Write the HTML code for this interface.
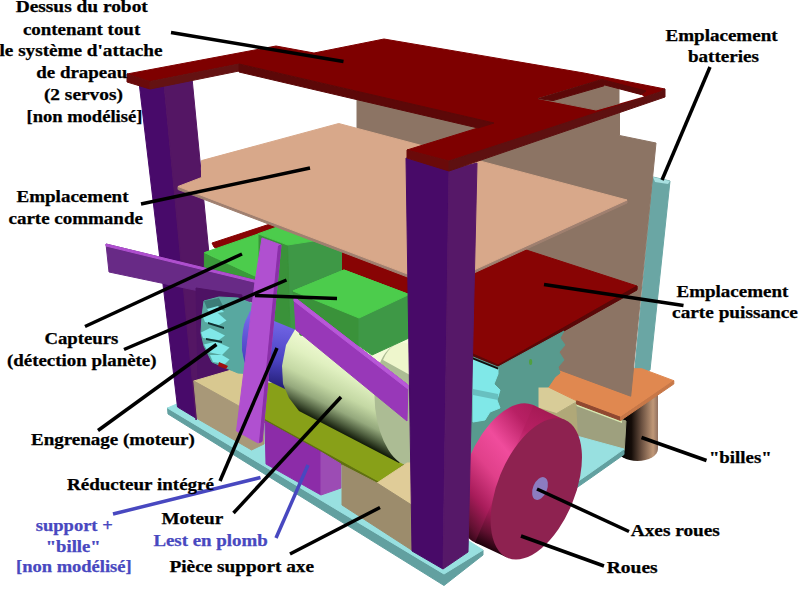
<!DOCTYPE html>
<html><head><meta charset="utf-8">
<style>
html,body{margin:0;padding:0;background:#fff;}
body{width:800px;height:600px;overflow:hidden;position:relative;}
svg{position:absolute;left:0;top:0;}
text{font-family:"Liberation Serif",serif;font-weight:bold;font-size:16px;fill:#000;stroke:#000;stroke-width:0.25px;}
.b{fill:#4848c0;stroke:#4848c0;}
</style></head><body>
<svg width="800" height="600" viewBox="0 0 800 600">
<defs>
<linearGradient id="motor" gradientUnits="userSpaceOnUse" x1="352" y1="352" x2="317" y2="421">
<stop offset="0" stop-color="#f4fcd8"/><stop offset="0.3" stop-color="#e0f0c0"/><stop offset="0.55" stop-color="#c4d8a4"/><stop offset="0.75" stop-color="#94a87c"/><stop offset="0.88" stop-color="#506040"/><stop offset="1" stop-color="#101808"/>
</linearGradient>
<linearGradient id="blue" gradientUnits="userSpaceOnUse" x1="262" y1="318" x2="255" y2="390">
<stop offset="0" stop-color="#7468e8"/><stop offset="0.55" stop-color="#4c44c4"/><stop offset="1" stop-color="#1c1868"/>
</linearGradient>
<linearGradient id="wheel" gradientUnits="userSpaceOnUse" x1="552" y1="405" x2="478" y2="545">
<stop offset="0" stop-color="#a01850"/><stop offset="0.22" stop-color="#b82064"/><stop offset="0.42" stop-color="#f04c9c"/><stop offset="0.58" stop-color="#e0408a"/><stop offset="0.76" stop-color="#a81c5a"/><stop offset="0.9" stop-color="#601030"/><stop offset="1" stop-color="#180008"/>
</linearGradient>
<linearGradient id="billes" gradientUnits="userSpaceOnUse" x1="617" y1="0" x2="658" y2="0">
<stop offset="0" stop-color="#000000"/><stop offset="0.35" stop-color="#140c08"/><stop offset="0.6" stop-color="#6a5040"/><stop offset="0.88" stop-color="#c09878"/><stop offset="1" stop-color="#907060"/>
</linearGradient>
</defs>
<polygon fill="#6aa6a4" points="653,177 670,181 650,370 641.7,373 634.5,372" stroke="#6aa6a4" stroke-width="1" stroke-linejoin="round" />
<polygon fill="#a8e0e0" points="653,177 670,181 668,184 655,182" stroke="none"/>
<rect x="617" y="388" width="41" height="61" fill="url(#billes)"/>
<ellipse cx="637.5" cy="449" rx="20.5" ry="12" fill="url(#billes)"/>
<polygon fill="#d8cc98" points="538,387 548.2,387 576.6,400.8 556.5,413.6 538,408" stroke="#d8cc98" stroke-width="1" stroke-linejoin="round" />
<polygon fill="#b0a878" points="538,408 556.5,413.6 576.6,401.7 578.5,437.5 558,446 538,446" stroke="#b0a878" stroke-width="1" stroke-linejoin="round" />
<polygon fill="#9ea07e" points="576.6,403 626,421 624.3,450.3 578.5,437.5" stroke="#9ea07e" stroke-width="1" stroke-linejoin="round" />
<polygon fill="#d8e8b0" points="576.6,403.5 622,420.5 622,423 576.6,406" stroke="none"/>
<polygon fill="#e08850" points="548.2,387 559,369 641.7,368.7 673.8,380.7 620.6,417.3 576.6,400.8" stroke="#e08850" stroke-width="1" stroke-linejoin="round" />
<polygon fill="#904830" points="576.6,400.8 620.6,417.3 620.6,420.5 576.6,404" stroke="#904830" stroke-width="1" stroke-linejoin="round" />
<polygon fill="#c87848" points="620.6,417.3 673.8,380.7 673.8,384 620.6,420.5" stroke="#c87848" stroke-width="1" stroke-linejoin="round" />
<polygon fill="#8c7464" points="357,50 619.5,84 619.5,135.5 656,143 630.7,396.2 559,369.7 470,330 357,300" stroke="#8c7464" stroke-width="1" stroke-linejoin="round" />
<polygon fill="#880404" points="212,243 270,224 357,195 637,286 637,289 498,367 473,355 420,330 300,300 214,247" stroke="#880404" stroke-width="1" stroke-linejoin="round" />
<polygon fill="#5a0808" points="637,286 637,290 498,368 498,365" stroke="#5a0808" stroke-width="1" stroke-linejoin="round" />
<polygon fill="#5a0808" points="473,354 498,365 498,368 473,357" stroke="#5a0808" stroke-width="1" stroke-linejoin="round" />
<polygon fill="#589a8e" points="468,355 473,357 498,367 564,331 560,338 565,345 559,352 564,360 558,367 560,373 555,377 548.2,387 538,387 538,446 503,470 468,470" stroke="#589a8e" stroke-width="1" stroke-linejoin="round" />
<polygon fill="#80e8e8" points="473,359 498,369 498,374 494,384 500,390 497,400 500,408 490,412 485,420 473,422" stroke="#80e8e8" stroke-width="1" stroke-linejoin="round" />
<polygon fill="#68c0c0" points="473,389 498,394 498,400 473,395" stroke="none"/>
<polygon fill="#101010" points="473,357.5 498,367.5 498,369.5 473,359.5" stroke="none"/>
<ellipse cx="530.6" cy="362" rx="1.6" ry="3" fill="#50a040"/>
<polygon fill="#62a0a0" points="167.5,408 444,574 483,550 483,555 444,585.5 168,414" stroke="#62a0a0" stroke-width="1" stroke-linejoin="round" />
<polygon fill="#98e0e0" points="167.5,408 223,384 483,550 444,574" stroke="#98e0e0" stroke-width="1" stroke-linejoin="round" />
<polygon fill="#62a0a0" points="624,449 624,454.5 590,478.5 577,487.5 577,482 590,473" stroke="#62a0a0" stroke-width="1" stroke-linejoin="round" />
<polygon fill="#98e0e0" points="540,425 582,437.5 624,449 590,473 577,482" stroke="#98e0e0" stroke-width="1" stroke-linejoin="round" />
<polygon fill="#3e9846" points="287.5,245 341.5,226 341.5,330 290,330" stroke="#3e9846" stroke-width="1" stroke-linejoin="round" />
<polygon fill="#3a923a" points="258,233.75 287.5,245 290,330 258,320" stroke="#3a923a" stroke-width="1" stroke-linejoin="round" />
<polygon fill="#4ccc4c" points="258,233.75 277,227 320,240 287.5,245" stroke="#4ccc4c" stroke-width="1" stroke-linejoin="round" />
<polygon fill="#3a923a" points="293,291 359,318 359,346 300,335" stroke="#3a923a" stroke-width="1" stroke-linejoin="round" />
<polygon fill="#3e9846" points="359,318 409,293.5 409,338 372,355 359,346" stroke="#3e9846" stroke-width="1" stroke-linejoin="round" />
<polygon fill="#4ccc4c" points="293,291 344,270 409,294.5 359,318" stroke="#4ccc4c" stroke-width="1" stroke-linejoin="round" />
<polygon fill="#480a6a" points="139,82 164,84 196.5,418.5 177.5,407" stroke="#480a6a" stroke-width="1" stroke-linejoin="round" />
<polygon fill="#541664" points="164,84 192,78 220,368 196,420" stroke="#541664" stroke-width="1" stroke-linejoin="round" />
<polygon fill="#3a9a3a" points="204.4,253 257,277 257,290 204.4,278" stroke="#3a9a3a" stroke-width="1" stroke-linejoin="round" />
<polygon fill="#4ccc4c" points="204.4,252.6 258,234 258,277 256,276.5" stroke="#4ccc4c" stroke-width="1" stroke-linejoin="round" />
<polygon fill="#a08070" points="178,186.5 439,286 627,200 627,203 439,289 178,189.5" stroke="#a08070" stroke-width="1" stroke-linejoin="round" />
<polygon fill="#d8a88a" points="178,186.5 201.5,177.5 201.5,160.6 338.75,123.5 627,200 439,286" stroke="#d8a88a" stroke-width="1" stroke-linejoin="round" />
<polygon fill="#682a86" points="106,244 256,280.5 256,303 109,272" stroke="#682a86" stroke-width="1" stroke-linejoin="round" />
<polygon fill="#b050d0" points="106,244 256,280.5 256,282.5 106,246" stroke="#b050d0" stroke-width="1" stroke-linejoin="round" />
<polygon fill="#4e1264" points="196,288 242,295 242,385 198,385" stroke="#4e1264" stroke-width="1" stroke-linejoin="round" />
<polygon fill="#d8c890" points="193.8,381 240.5,367.3 262,374 238.7,405.9" stroke="#d8c890" stroke-width="1" stroke-linejoin="round" />
<polygon fill="#a89878" points="193.8,381 238.7,405.9 264,420 264,444 251.6,450 197.4,418.7" stroke="#a89878" stroke-width="1" stroke-linejoin="round" />
<polygon fill="#58a8a0" points="204,301 219,297 238,298 256,305 256,374 238,373 226,368 212,362 204,346 201,333 202,316" stroke="#58a8a0" stroke-width="1" stroke-linejoin="round" />
<polygon fill="#3c7c78" points="204,301 219,298 225,310 207,308.5" stroke="none"/>
<polygon fill="#80e8e8" points="202.5,316 216,311.5 226.5,320.5 219,325 205,322" stroke="none"/>
<polygon fill="#80e8e8" points="201,332.5 210,328 225,335.5 219,340 203,338" stroke="none"/>
<polygon fill="#80e8e8" points="204,344.5 216,341.5 229.5,347.5 222,355 208,352" stroke="none"/>
<polygon fill="#80e8e8" points="210,355 222,355 229.5,359.5 225,364 213,362" stroke="none"/>
<polygon fill="#80e8e8" points="207,309 218,306 224,312 210,314" stroke="none"/>
<polygon fill="#103030" points="208,322 224,327 224,329 208,324" stroke="none"/>
<polygon fill="#103030" points="206,338 222,341 222,343 206,340" stroke="none"/>
<polygon fill="#a01010" points="219,362 228,366 226,369 218,366" stroke="none"/>
<polygon fill="#88a018" points="262,383 290,383 407,440 407,463 380,484 262,419" stroke="#88a018" stroke-width="1" stroke-linejoin="round" />
<polygon fill="#607010" points="262,418 380,483 407,462 407,465 380,486 262,421" stroke="#607010" stroke-width="1" stroke-linejoin="round" />
<polygon fill="url(#blue)" points="250,311 295,329.5 287,390 262,378 248,373 242,350 244,325" />
<ellipse cx="255" cy="343" rx="13" ry="32" fill="url(#blue)"/>
<polygon fill="url(#motor)" points="295,329.5 409,338 410,380 410,450 399,463 299,411 289,398 283,384 282,366 286,345" />
<ellipse cx="405" cy="405" rx="30" ry="61" transform="rotate(-6 405 405)" fill="#acbc94"/>
<path d="M 383 360 A 30 61 -6 0 1 409 344 L 410 375 Z" fill="#eef6cc"/>
<polygon fill="#3a923a" points="293,291 359,318 359,346 300,335" stroke="#3a923a" stroke-width="1" stroke-linejoin="round" />
<polygon fill="#3e9846" points="359,318 409,293.5 409,338 372,355 359,346" stroke="#3e9846" stroke-width="1" stroke-linejoin="round" />
<polygon fill="#4ccc4c" points="293,291 344,270 409,294.5 359,318" stroke="#4ccc4c" stroke-width="1" stroke-linejoin="round" />
<polygon fill="#8c2ca8" points="265,421 321,452 321,495 266,464" stroke="#8c2ca8" stroke-width="1" stroke-linejoin="round" />
<polygon fill="#9c4cb4" points="321,452 341,464 341,488 321,495" stroke="#9c4cb4" stroke-width="1" stroke-linejoin="round" />
<polygon fill="#e0cc98" points="377,483 407,463 413,463 413,506 410,504" stroke="#e0cc98" stroke-width="1" stroke-linejoin="round" />
<polygon fill="#9c8c6c" points="342,465 377,483 410,504 413,506 413,551 410,549 342,505" stroke="#9c8c6c" stroke-width="1" stroke-linejoin="round" />
<polygon fill="#b050d0" points="262,238 281,245 262,441.5 258,443 236.5,431 255,282" stroke="#b050d0" stroke-width="1" stroke-linejoin="round" />
<polygon fill="#8a30a8" points="278.5,246 281,245 262,441.5 259.5,442.5" stroke="#8a30a8" stroke-width="1" stroke-linejoin="round" />
<polygon fill="#9838b8" points="294,297 408,385 407,421 296,330" stroke="#9838b8" stroke-width="1" stroke-linejoin="round" />
<polygon fill="#b858d8" points="294,297 408,385 408,389 294,301" stroke="#b858d8" stroke-width="1" stroke-linejoin="round" />
<ellipse cx="504.3" cy="473.9" rx="38.7" ry="74.7" transform="rotate(22.3 504.3 473.9)" fill="url(#wheel)"/>
<polygon fill="url(#wheel)" points="507.1,557.6 475.1,542.6 533.5,405.2 565.5,420.2" />
<ellipse cx="536.3" cy="488.9" rx="38.7" ry="74.7" transform="rotate(22.3 536.3 488.9)" fill="#8e2250"/>
<ellipse cx="540" cy="488.5" rx="7" ry="12" transform="rotate(22.3 540 488.5)" fill="#8c7cc0"/>
<polygon fill="#480a68" points="406,158 449,170 443,569 412,551" stroke="#480a68" stroke-width="1" stroke-linejoin="round" />
<polygon fill="#561868" points="449,170 477,163 468,552 443,569" stroke="#561868" stroke-width="1" stroke-linejoin="round" />
<polygon fill="#7e0000" points="127,74 276,46 314,53 384,39 584,73 665,89 660,92 449,161 407,150 494,123 239,64 150,81.5" stroke="#7e0000" stroke-width="1" stroke-linejoin="round" />
<polygon fill="#6a0a0a" points="127,74 150,81.5 150,89 127,82" stroke="#6a0a0a" stroke-width="1" stroke-linejoin="round" />
<polygon fill="#641212" points="150,81.5 239,64 239,71 150,89" stroke="#641212" stroke-width="1" stroke-linejoin="round" />
<polygon fill="#5c0808" points="239,64 494,123 478,128 239,72" stroke="#5c0808" stroke-width="1" stroke-linejoin="round" />
<polygon fill="#6a0a0a" points="407,150 449,161 449,171 407,158" stroke="#6a0a0a" stroke-width="1" stroke-linejoin="round" />
<polygon fill="#5e1010" points="449,161 660,92 665,89 665,97 449,171" stroke="#5e1010" stroke-width="1" stroke-linejoin="round" />
<polygon fill="#8c7464" points="538.5,98.6 601.7,80 619.5,85 619.5,103.4 596,110" stroke="#8c7464" stroke-width="1" stroke-linejoin="round" />
<polygon fill="#ffffff" points="619.5,88.5 641,94.5 644,96.5 619.5,103.4" stroke="none"/>
<polygon fill="#5c0808" points="538.5,98.6 601.7,79.5 604,85.8 553,100.6" stroke="#5c0808" stroke-width="1" stroke-linejoin="round" />
<polygon fill="#5c0808" points="602,79.5 646,91 641,94.5 603,84.5" stroke="#5c0808" stroke-width="1" stroke-linejoin="round" />
<g stroke="#000" stroke-width="3.5"><line x1="171" y1="32.5" x2="343.5" y2="61.5"/><line x1="141" y1="204" x2="310" y2="168"/><line x1="85" y1="326.5" x2="242" y2="254"/><line x1="124" y1="349.5" x2="286.5" y2="280"/><line x1="255" y1="295.5" x2="337" y2="298.5"/><line x1="98" y1="430.5" x2="216.5" y2="344.5"/><line x1="220" y1="481" x2="277" y2="348"/><line x1="233.5" y1="513" x2="341" y2="397"/><line x1="290" y1="554" x2="380" y2="507.5"/><line x1="710" y1="67" x2="662" y2="180"/><line x1="544" y1="284.5" x2="683.5" y2="305.5"/><line x1="641.5" y1="437.5" x2="706.5" y2="460.5"/><line x1="537" y1="489" x2="629" y2="531.5"/><line x1="521" y1="536" x2="604" y2="566"/></g>
<g stroke="#4848c0" stroke-width="3.5"><line x1="113" y1="514" x2="260.5" y2="477.5"/><line x1="276" y1="538" x2="308" y2="465"/></g>
<g>
<text x="15.7" y="12.3" textLength="132.1" lengthAdjust="spacingAndGlyphs">Dessus du robot</text>
<text x="22.9" y="34.6" textLength="117.3" lengthAdjust="spacingAndGlyphs">contenant tout</text>
<text x="-0.5" y="56.3" textLength="163.0" lengthAdjust="spacingAndGlyphs">le système d'attache</text>
<text x="36.3" y="78.0" textLength="90.9" lengthAdjust="spacingAndGlyphs">de drapeau</text>
<text x="43.9" y="100.0" textLength="79.0" lengthAdjust="spacingAndGlyphs">(2 servos)</text>
<text x="26.5" y="122.0" textLength="115.8" lengthAdjust="spacingAndGlyphs">[non modélisé]</text>
<text x="16.5" y="201.5" textLength="112.0" lengthAdjust="spacingAndGlyphs">Emplacement</text>
<text x="8.5" y="223.5" textLength="134.4" lengthAdjust="spacingAndGlyphs">carte commande</text>
<text x="44.5" y="344.0" textLength="73.8" lengthAdjust="spacingAndGlyphs">Capteurs</text>
<text x="7.0" y="366.0" textLength="149.5" lengthAdjust="spacingAndGlyphs">(détection planète)</text>
<text x="31.0" y="445.0" textLength="163.8" lengthAdjust="spacingAndGlyphs">Engrenage (moteur)</text>
<text x="67.0" y="490.0" textLength="147.0" lengthAdjust="spacingAndGlyphs">Réducteur intégré</text>
<text class="b" x="35.8" y="531.0" textLength="76.9" lengthAdjust="spacingAndGlyphs">support +</text>
<text class="b" x="45.7" y="552.0" textLength="55.0" lengthAdjust="spacingAndGlyphs">&quot;bille&quot;</text>
<text class="b" x="16.0" y="571.5" textLength="115.7" lengthAdjust="spacingAndGlyphs">[non modélisé]</text>
<text x="161.5" y="524.0" textLength="61.8" lengthAdjust="spacingAndGlyphs">Moteur</text>
<text class="b" x="153.4" y="545.7" textLength="114.4" lengthAdjust="spacingAndGlyphs">Lest en plomb</text>
<text x="169.5" y="571.7" textLength="144.5" lengthAdjust="spacingAndGlyphs">Pièce support axe</text>
<text x="665.5" y="40.6" textLength="112.1" lengthAdjust="spacingAndGlyphs">Emplacement</text>
<text x="687.9" y="62.2" textLength="71.0" lengthAdjust="spacingAndGlyphs">batteries</text>
<text x="676.5" y="296.9" textLength="111.8" lengthAdjust="spacingAndGlyphs">Emplacement</text>
<text x="672.1" y="318.0" textLength="125.8" lengthAdjust="spacingAndGlyphs">carte puissance</text>
<text x="708.9" y="462.5" textLength="62.8" lengthAdjust="spacingAndGlyphs">&quot;billes&quot;</text>
<text x="630.8" y="536.0" textLength="89.0" lengthAdjust="spacingAndGlyphs">Axes roues</text>
<text x="606.8" y="573.0" textLength="50.9" lengthAdjust="spacingAndGlyphs">Roues</text>
</g>
</svg>
</body></html>
